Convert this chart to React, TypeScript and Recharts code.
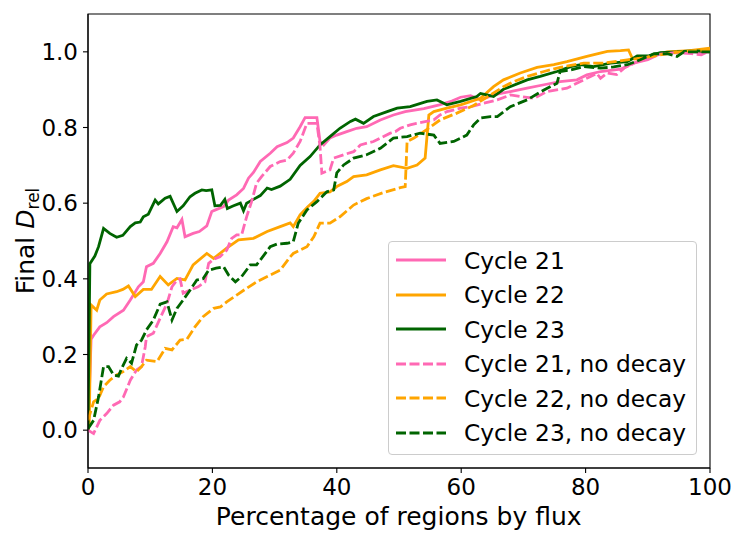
import React from 'react'
import { LineChart, Line, XAxis, YAxis, ReferenceArea, Label } from 'recharts'

// percentage of regions (x) and final D_rel (y)
const c21X = [0, 0.5, 0.9, 1.9, 3.0, 4.1, 5.7, 6.8, 8.1, 8.9, 9.4, 10.5, 11.6, 12.7, 13.7, 14.3, 15.1, 15.6, 16.9, 17.9, 19.1, 19.9, 20.6, 21.8, 22.6, 23.9, 25.0, 25.8, 26.6, 27.7, 29.3, 30.4, 32.0, 33.0, 34.1, 34.9, 36.8, 37.3, 37.9, 38.9, 40.0, 41.6, 43.2, 44.8, 47.0, 49.1, 51.0, 54.0, 56.5, 58.5, 59.9, 61.5, 63.1, 65.2, 67.9, 70.6, 73.3, 75.9, 78.6, 80.2, 82.4, 85.6, 87.7, 90.0, 92.0, 94.5, 97.0, 98.6, 100]
const c21Y = [0.0, 0.24, 0.251, 0.273, 0.284, 0.3, 0.317, 0.344, 0.379, 0.392, 0.432, 0.441, 0.467, 0.498, 0.538, 0.535, 0.557, 0.511, 0.52, 0.525, 0.54, 0.578, 0.583, 0.591, 0.608, 0.622, 0.639, 0.666, 0.681, 0.71, 0.732, 0.749, 0.76, 0.772, 0.802, 0.826, 0.826, 0.763, 0.754, 0.772, 0.78, 0.789, 0.798, 0.802, 0.82, 0.833, 0.842, 0.85, 0.86, 0.87, 0.88, 0.884, 0.873, 0.886, 0.895, 0.904, 0.913, 0.921, 0.926, 0.939, 0.948, 0.954, 0.97, 0.979, 0.995, 1.0, 1.0, 0.998, 1.0]

const c22X = [0, 0.2, 0.5, 1.4, 1.9, 3.0, 4.6, 5.6, 6.5, 7.6, 8.9, 10.2, 11.6, 12.9, 14.3, 15.6, 16.9, 19.1, 20.2, 22.3, 24.2, 26.6, 28.8, 30.9, 32.5, 33.0, 34.1, 35.3, 36.3, 37.3, 38.9, 40.0, 41.6, 42.7, 44.8, 47.0, 49.1, 51.3, 52.9, 54.2, 54.8, 55.6, 57.7, 59.9, 63.1, 65.2, 66.8, 69.5, 72.2, 74.9, 77.0, 80.2, 83.5, 85.6, 86.9, 87.5, 88.8, 91.0, 93.1, 96.7, 100]
const c22Y = [0.0, 0.02, 0.331, 0.317, 0.344, 0.36, 0.366, 0.372, 0.381, 0.353, 0.372, 0.372, 0.406, 0.384, 0.401, 0.397, 0.437, 0.467, 0.454, 0.481, 0.503, 0.507, 0.525, 0.538, 0.548, 0.538, 0.569, 0.59, 0.605, 0.626, 0.63, 0.644, 0.657, 0.67, 0.675, 0.688, 0.699, 0.692, 0.701, 0.719, 0.833, 0.842, 0.851, 0.86, 0.877, 0.908, 0.926, 0.944, 0.959, 0.966, 0.974, 0.988, 1.001, 1.003, 1.005, 0.983, 0.98, 0.992, 1.0, 1.003, 1.01]

const c23X = [0, 0.3, 1.1, 1.7, 2.5, 3.5, 4.6, 5.6, 6.8, 7.6, 8.4, 8.9, 9.7, 10.8, 11.3, 12.4, 13.2, 14.3, 15.3, 16.4, 17.2, 18.3, 19.0, 19.9, 20.4, 21.3, 22.0, 22.4, 23.4, 24.5, 25.0, 25.5, 26.6, 27.7, 28.8, 29.5, 30.9, 32.5, 34.1, 35.7, 37.3, 38.9, 40.5, 42.2, 43.0, 44.3, 45.9, 48.1, 49.7, 51.8, 54.5, 56.1, 57.7, 59.9, 62.5, 63.1, 65.2, 66.8, 70.6, 72.7, 75.4, 77.6, 79.2, 81.3, 84.0, 86.7, 88.3, 90.0, 92.0, 94.7, 97.4, 100]
const c23Y = [0.0, 0.44, 0.46, 0.485, 0.533, 0.52, 0.51, 0.515, 0.538, 0.548, 0.55, 0.564, 0.571, 0.608, 0.598, 0.613, 0.618, 0.578, 0.593, 0.617, 0.626, 0.635, 0.633, 0.635, 0.593, 0.594, 0.61, 0.586, 0.593, 0.6, 0.58, 0.6, 0.61, 0.62, 0.64, 0.636, 0.645, 0.663, 0.7, 0.723, 0.754, 0.776, 0.798, 0.816, 0.822, 0.811, 0.829, 0.842, 0.851, 0.855, 0.869, 0.873, 0.86, 0.869, 0.882, 0.89, 0.882, 0.901, 0.926, 0.935, 0.948, 0.961, 0.966, 0.961, 0.97, 0.974, 0.989, 0.989, 0.998, 1.0, 1.003, 1.0]

const n21X = [0, 0.9, 1.9, 3.0, 4.1, 5.1, 5.7, 6.8, 7.8, 8.6, 9.2, 9.4, 10.5, 11.6, 12.7, 13.5, 14.3, 14.8, 15.3, 16.4, 17.7, 18.8, 19.4, 20.2, 21.2, 22.3, 23.1, 23.9, 24.7, 25.5, 26.3, 27.1, 27.9, 29.3, 30.9, 32.0, 33.0, 34.1, 35.2, 36.8, 37.3, 37.6, 38.9, 39.5, 41.1, 42.7, 43.8, 45.9, 47.0, 48.6, 49.4, 50.2, 51.8, 52.8, 55.6, 56.6, 57.7, 59.9, 61.5, 63.6, 65.8, 67.9, 71.7, 73.8, 77.0, 79.7, 80.8, 81.8, 82.4, 83.5, 85.0, 86.2, 88.3, 91.0, 94.2, 97.0, 98.6, 100]
const n21Y = [0.0, -0.009, 0.026, 0.044, 0.066, 0.075, 0.088, 0.132, 0.159, 0.168, 0.22, 0.247, 0.256, 0.296, 0.335, 0.379, 0.397, 0.4, 0.362, 0.37, 0.379, 0.392, 0.441, 0.452, 0.458, 0.476, 0.507, 0.516, 0.516, 0.564, 0.604, 0.653, 0.67, 0.697, 0.71, 0.714, 0.732, 0.763, 0.811, 0.811, 0.75, 0.679, 0.688, 0.719, 0.728, 0.736, 0.754, 0.763, 0.772, 0.785, 0.789, 0.798, 0.807, 0.811, 0.82, 0.833, 0.842, 0.851, 0.855, 0.864, 0.873, 0.886, 0.877, 0.895, 0.904, 0.926, 0.935, 0.943, 0.93, 0.944, 0.94, 0.957, 0.974, 0.992, 0.998, 0.995, 0.992, 1.003]

const n22X = [0, 0.9, 1.7, 2.5, 3.5, 4.6, 5.6, 6.8, 7.8, 8.6, 9.4, 11.1, 12.4, 13.5, 14.8, 15.9, 17.2, 18.5, 20.2, 21.3, 22.3, 23.9, 25.5, 27.1, 29.3, 30.9, 32.5, 33.0, 35.2, 36.3, 37.3, 38.9, 40.5, 42.7, 44.8, 47.5, 50.2, 51.0, 51.3, 52.4, 54.5, 56.6, 59.3, 62.0, 64.7, 66.8, 68.4, 70.6, 73.3, 75.9, 79.7, 82.9, 86.7, 88.8, 91.0, 94.2, 97.0, 100]
const n22Y = [0.026, 0.075, 0.084, 0.115, 0.132, 0.146, 0.154, 0.168, 0.154, 0.168, 0.185, 0.181, 0.216, 0.212, 0.238, 0.24, 0.273, 0.3, 0.322, 0.326, 0.339, 0.357, 0.375, 0.392, 0.41, 0.423, 0.458, 0.467, 0.485, 0.511, 0.547, 0.547, 0.564, 0.595, 0.612, 0.628, 0.641, 0.644, 0.763, 0.772, 0.795, 0.82, 0.838, 0.858, 0.886, 0.908, 0.921, 0.935, 0.948, 0.959, 0.97, 0.97, 0.979, 0.983, 0.989, 0.998, 1.003, 1.005]

const n23X = [0, 0.9, 1.7, 2.5, 3.3, 4.1, 4.9, 5.4, 6.2, 7.0, 7.8, 8.6, 9.4, 10.5, 11.6, 12.7, 13.5, 14.3, 15.3, 16.4, 17.5, 18.5, 19.4, 20.6, 21.8, 22.6, 23.7, 24.7, 26.1, 27.1, 27.9, 29.3, 30.4, 32.0, 33.0, 33.8, 35.2, 36.8, 38.4, 39.5, 40.0, 41.1, 42.7, 44.8, 47.0, 49.1, 51.3, 53.4, 55.6, 56.6, 58.8, 60.9, 62.0, 63.1, 64.7, 65.8, 67.9, 70.6, 73.3, 75.4, 75.9, 77.6, 79.7, 82.4, 84.5, 86.7, 88.8, 91.0, 93.1, 94.7, 95.8, 100]
const n23Y = [0.004, 0.026, 0.088, 0.168, 0.168, 0.146, 0.143, 0.163, 0.19, 0.177, 0.225, 0.238, 0.265, 0.291, 0.333, 0.339, 0.291, 0.322, 0.344, 0.37, 0.397, 0.4, 0.423, 0.428, 0.432, 0.41, 0.392, 0.406, 0.437, 0.437, 0.454, 0.485, 0.492, 0.494, 0.498, 0.547, 0.582, 0.604, 0.63, 0.635, 0.68, 0.701, 0.719, 0.728, 0.745, 0.772, 0.776, 0.785, 0.78, 0.758, 0.763, 0.78, 0.807, 0.825, 0.829, 0.829, 0.855, 0.873, 0.899, 0.917, 0.948, 0.952, 0.961, 0.957, 0.96, 0.966, 0.979, 0.995, 0.995, 0.988, 1.0, 1.0]

const xTicks = [0, 20, 40, 60, 80, 100]
const yTicks = [0, 0.2, 0.4, 0.6, 0.8, 1.0]

const PINK = '#ff69b4'
const ORANGE = '#ffa500'
const GREEN = '#006400'
const DASH = '10 3.5'
const FONT = 'DejaVu Sans'

const zip = (xs: number[], ys: number[]) => xs.map((x, i) => ({ x, y: ys[i] }))

const series = [
  { name: 'Cycle 21', data: zip(c21X, c21Y), color: PINK, dash: undefined },
  { name: 'Cycle 22', data: zip(c22X, c22Y), color: ORANGE, dash: undefined },
  { name: 'Cycle 23', data: zip(c23X, c23Y), color: GREEN, dash: undefined },
  { name: 'Cycle 21, no decay', data: zip(n21X, n21Y), color: PINK, dash: DASH },
  { name: 'Cycle 22, no decay', data: zip(n22X, n22Y), color: ORANGE, dash: DASH },
  { name: 'Cycle 23, no decay', data: zip(n23X, n23Y), color: GREEN, dash: DASH },
]

function LegendBox() {
  return (
    <div style={{
      position: 'absolute', left: 388, top: 241, width: 307, height: 212,
      border: '1px solid #cccccc', borderRadius: 4, background: 'rgba(255,255,255,0.8)',
      fontFamily: FONT, fontSize: 23.3, color: '#000',
    }}>
      {series.map((s, i) => (
        <div key={s.name} style={{ position: 'absolute', left: 6, top: 3 + i * 34.5, height: 30, display: 'flex', alignItems: 'center' }}>
          <svg width={52} height={10} style={{ marginRight: 17 }}>
            <line x1={1} y1={5} x2={51} y2={5} stroke={s.color} strokeWidth={3} strokeDasharray={s.dash} />
          </svg>
          <span style={{ whiteSpace: 'nowrap' }}>{s.name}</span>
        </div>
      ))}
    </div>
  )
}

export default function App() {
  return (
    <div style={{ position: 'absolute', left: 0, top: 0, width: 741, height: 541, background: '#fff' }}>
      <LineChart width={741} height={541} margin={{ top: 14, right: 31, bottom: 0, left: 0 }}>
        <XAxis
          dataKey="x" type="number" domain={[0, 100]} ticks={xTicks} allowDataOverflow
          height={73} tickSize={5} tickMargin={6} stroke="#000" strokeWidth={1.1}
          tick={{ fill: '#000', fontSize: 23, fontFamily: FONT }}
        >
          <Label
            content={() => (
              <text x={398.7} y={525} textAnchor="middle" fontSize={25} fontFamily={FONT} fill="#000">
                Percentage of regions by flux
              </text>
            )}
          />
        </XAxis>
        <YAxis
          type="number" domain={[-0.1, 1.1]} ticks={yTicks} allowDataOverflow
          width={88} tickSize={5} tickMargin={5} stroke="#000" strokeWidth={1.1}
          tickFormatter={(v: number) => v.toFixed(1)}
          tick={{ fill: '#000', fontSize: 23, fontFamily: FONT }}
        >
          <Label
            content={() => (
              <text x={34} y={241} transform="rotate(-90 34 241)" textAnchor="middle" fontSize={25} fontFamily={FONT} fill="#000">
                Final <tspan fontStyle="italic">D</tspan><tspan dy={5} fontSize={17}>rel</tspan>
              </text>
            )}
          />
        </YAxis>
        {series.map(s => (
          <Line
            key={s.name} data={s.data} dataKey="y" type="linear" stroke={s.color}
            strokeWidth={2.8} strokeDasharray={s.dash} dot={false} activeDot={false}
            isAnimationActive={false}
          />
        ))}
        <ReferenceArea x1={0} x2={100} y1={-0.1} y2={1.1} fill="none" stroke="#000" strokeWidth={1.1} ifOverflow="visible" />
      </LineChart>
      <LegendBox />
    </div>
  )
}
